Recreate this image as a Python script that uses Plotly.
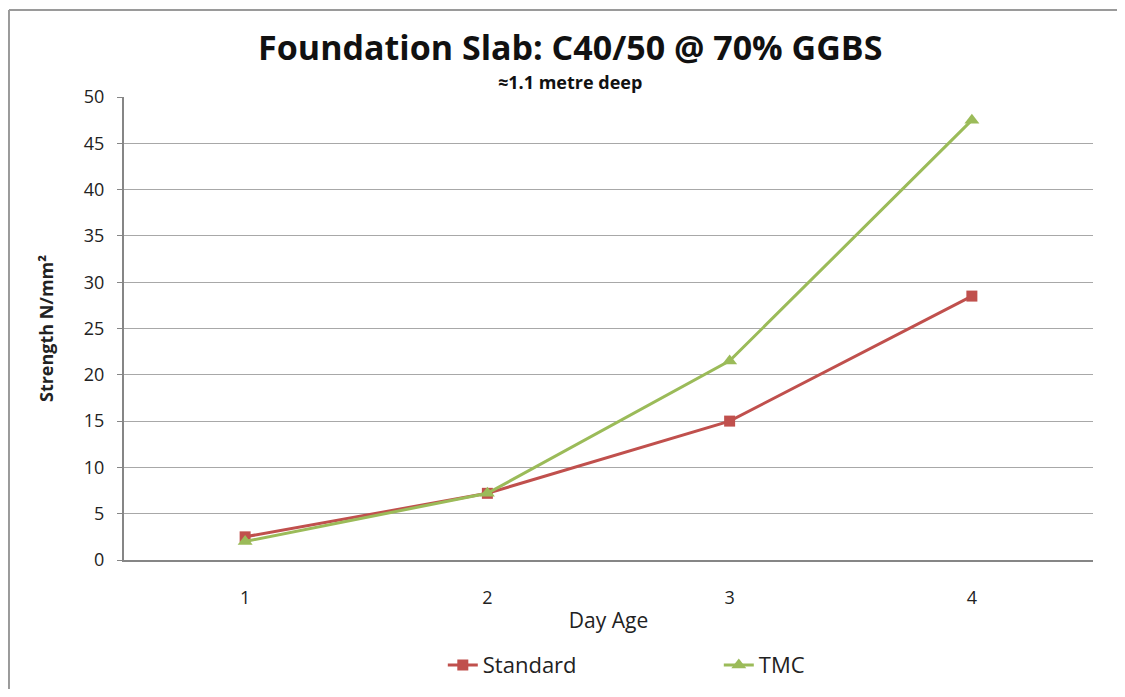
import plotly.graph_objects as go

days = [1, 2, 3, 4]
standard = [2.5, 7.2, 15.0, 28.5]
tmc = [2.0, 7.2, 21.5, 47.5]
y_ticks = [0, 5, 10, 15, 20, 25, 30, 35, 40, 45, 50]

FONT = "Open Sans"

fig = go.Figure()
fig.add_trace(go.Scatter(x=days, y=standard, mode="lines+markers", name="Standard",
                         line={"color": "#C0504D", "width": 3},
                         marker={"symbol": "square", "size": 11, "color": "#C0504D"}))
fig.add_trace(go.Scatter(x=days, y=tmc, mode="lines+markers", name="TMC",
                         line={"color": "#9BBB59", "width": 3},
                         marker={"symbol": "triangle-up", "size": 13, "color": "#9BBB59"}))

# outer chart frame: only its top and left edges fall inside the picture
frame = {"color": "#9a9a9a", "width": 2}
fig.add_shape(type="line", xref="paper", yref="paper", x0=-0.1187, x1=1.2, y0=1.188, y1=1.188,
              line=frame, layer="below")
fig.add_shape(type="line", xref="paper", yref="paper", x0=-0.1187, x1=-0.1187, y0=-0.4, y1=1.188,
              line=frame, layer="below")

fig.update_layout(
    width=1109, height=681,
    margin={"l": 116, "r": 24, "t": 89, "b": 129, "autoexpand": False},
    paper_bgcolor="white", plot_bgcolor="white",
    font={"family": FONT, "color": "#222222", "size": 18},
    title={"text": "<b>Foundation Slab: C40/50 @ 70% GGBS</b>", "x": 0.507, "xanchor": "center",
           "y": 0.9413, "yanchor": "middle", "font": {"size": 34, "color": "#111111"}},
    showlegend=True,
    legend={"orientation": "h", "x": 0.329, "xanchor": "left", "y": -0.227, "yanchor": "middle",
            "entrywidth": 231, "entrywidthmode": "pixels", "font": {"size": 22}},
    xaxis={"range": [0.5, 4.5], "tickvals": days, "showgrid": False, "zeroline": False,
           "showline": True, "linecolor": "#868686", "linewidth": 2, "ticks": "",
           "ticklabelstandoff": 20, "automargin": False,
           "title": {"text": "Day Age", "font": {"size": 21}, "standoff": 6}},
    yaxis={"range": [0, 50], "tickvals": y_ticks, "showgrid": True, "gridcolor": "#a8a8a8",
           "gridwidth": 1, "zeroline": False, "showline": True, "linecolor": "#868686",
           "linewidth": 2, "ticks": "outside", "ticklen": 5, "tickcolor": "#868686",
           "ticklabelstandoff": 9, "automargin": False,
           "title": {"text": "<b>Strength N/mm²</b>", "font": {"size": 18}, "standoff": 26}},
)
fig.add_annotation(text="<b>≈1.1 metre deep</b>", xref="paper", yref="paper", x=0.46, y=1.032,
                   yanchor="middle", showarrow=False, font={"size": 18, "color": "#111111"})

fig.write_html("out.html")
